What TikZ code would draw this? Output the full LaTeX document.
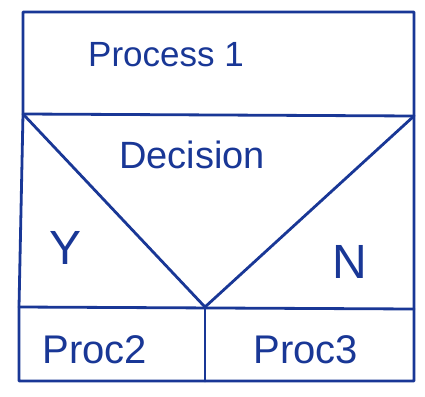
\documentclass[tikz,border=0pt]{standalone}
\usepackage{fontspec}
\setmainfont{Liberation Sans}
\definecolor{ink}{RGB}{25,55,150}
\begin{document}
\begin{tikzpicture}[x=1pt,y=-1pt,
  frame/.style={draw=ink,line width=2.8pt,line join=round,line cap=round},
  lbl/.style={text=ink,inner sep=0pt}]
\useasboundingbox[fill=white] (0,0) rectangle (425,396);
% corners
\coordinate (tl) at (23,12);
\coordinate (tr) at (414,12);
\coordinate (ml) at (23,114);
\coordinate (mr) at (414,116);
\coordinate (bl) at (19,307);
\coordinate (br) at (414,309);
\coordinate (apex) at (205,307);
\coordinate (fl) at (19,381);
\coordinate (fr) at (414,381);
\coordinate (fm) at (205,381);
\draw[frame] (tl) -- (tr) -- (fr) -- (fl) -- (bl) -- (ml) -- cycle;
\draw[frame] (ml) -- (mr);
\draw[frame] (bl) -- (br);
\draw[frame] (ml) -- (apex) -- (mr);
\draw[frame] (apex) -- (fm);
\node[lbl,font=\fontsize{35}{38}\selectfont] (p1) at (166,55) {Process 1};
\node[lbl,font=\fontsize{38}{40}\selectfont] (dec) at (192,155) {Decision};
\node[lbl,font=\fontsize{48}{50}\selectfont] (y) at (66,248) {Y};
\node[lbl,font=\fontsize{48}{50}\selectfont] (n) at (350,262) {N};
\node[lbl,font=\fontsize{40}{42}\selectfont] (p2) at (95,350) {Proc2};
\node[lbl,font=\fontsize{40}{42}\selectfont] (p3) at (306,350) {Proc3};
\end{tikzpicture}
\end{document}
